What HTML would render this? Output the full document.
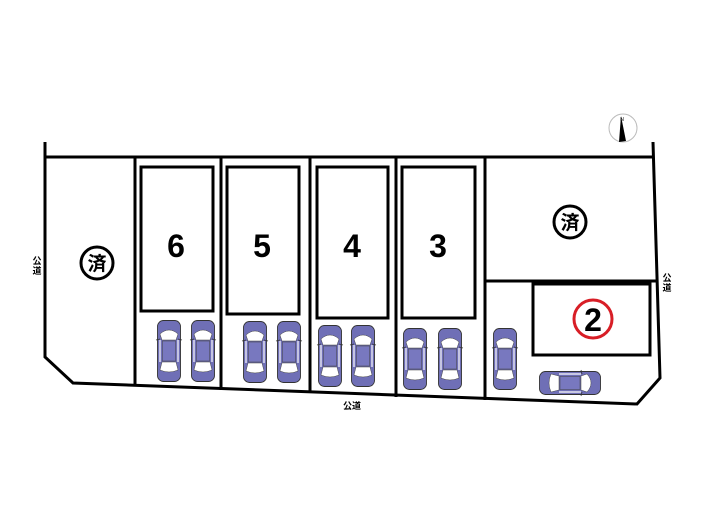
<!DOCTYPE html>
<html><head><meta charset="utf-8"><style>
html,body{margin:0;padding:0;background:#fff;}
svg{display:block;}
text{font-family:"Liberation Sans","Noto Sans CJK JP",sans-serif;}
</style></head><body>
<svg width="705" height="525" viewBox="0 0 705 525" xmlns="http://www.w3.org/2000/svg">
<defs>
<g id="car">
  <rect x="0.5" y="0.5" width="23" height="61" rx="6" fill="#6f6fb6" stroke="#333" stroke-width="0.9"/>
  <path d="M3 14 Q12 6 21 14 L19 20 L5 20 Z" fill="#fff" stroke="#444" stroke-width="0.5"/>
  <rect x="5.5" y="21" width="13" height="20" fill="#7878bf" stroke="#444" stroke-width="0.5"/>
  <path d="M5 42 L19 42 L21 50 Q12 54 3 50 Z" fill="#fff" stroke="#444" stroke-width="0.5"/>
  <line x1="3" y1="20" x2="3" y2="42" stroke="#fff" stroke-width="1.2"/>
  <line x1="21" y1="20" x2="21" y2="42" stroke="#fff" stroke-width="1.2"/>
  <line x1="-1" y1="20" x2="3" y2="19" stroke="#333" stroke-width="0.8"/>
  <line x1="25" y1="20" x2="21" y2="19" stroke="#333" stroke-width="0.8"/>
</g>
<g id="sumi">
  <circle cx="0" cy="0" r="16" fill="#fff" stroke="#000" stroke-width="3"/>
  <text x="0" y="7" font-size="19" font-weight="bold" text-anchor="middle">済</text>
</g>
</defs>
<g fill="none" stroke="#000" stroke-width="3" stroke-linejoin="miter">
  <polyline points="45,142 45,357 73,383 637,404 660,378 653,142"/>
  <line x1="45" y1="157" x2="654" y2="157"/>
  <line x1="135" y1="157" x2="135" y2="386"/>
  <line x1="221" y1="157" x2="221" y2="390"/>
  <line x1="310" y1="157" x2="310" y2="393"/>
  <line x1="396" y1="157" x2="396" y2="397"/>
  <line x1="485" y1="157" x2="485" y2="400"/>
  <line x1="485" y1="281" x2="656" y2="281"/>
  <rect x="141" y="167" width="72" height="144"/>
  <rect x="227" y="167" width="72" height="147"/>
  <rect x="317" y="167" width="71" height="151"/>
  <rect x="402" y="167" width="73" height="151"/>
  <rect x="533" y="284" width="117" height="71"/>
</g>
<g font-weight="bold" font-size="32" text-anchor="middle">
  <text x="176" y="257">6</text>
  <text x="262" y="257">5</text>
  <text x="352" y="257">4</text>
  <text x="438" y="257">3</text>
</g>
<use href="#sumi" x="97" y="263"/>
<use href="#sumi" x="570" y="222"/>
<circle cx="593" cy="319" r="19" fill="#fff" stroke="#d81e26" stroke-width="3"/>
<text x="593" y="331" font-size="32" font-weight="bold" text-anchor="middle">2</text>
<use href="#car" x="157" y="320"/>
<use href="#car" x="191" y="320"/>
<use href="#car" x="243" y="321"/>
<use href="#car" x="277" y="321"/>
<use href="#car" x="318" y="325"/>
<use href="#car" x="351" y="325"/>
<use href="#car" x="403" y="328"/>
<use href="#car" x="438" y="328"/>
<use href="#car" x="493" y="328"/>
<g transform="translate(601,371) rotate(90)"><use href="#car" x="0" y="0" transform="scale(1,1)"/></g>
<g font-size="9" font-weight="bold" text-anchor="middle">
  <text x="37" y="264">公</text><text x="37" y="274">道</text>
  <text x="667" y="281">公</text><text x="667" y="291">道</text>
  <text x="352" y="409">公道</text>
</g>
<circle cx="623" cy="128" r="14" fill="#fff" stroke="#bbb" stroke-width="1"/>
<polygon points="621,116 619,142 626,141" fill="#000"/>
<text x="622" y="121" font-size="5" text-anchor="middle">N</text>
</svg>
</body></html>
